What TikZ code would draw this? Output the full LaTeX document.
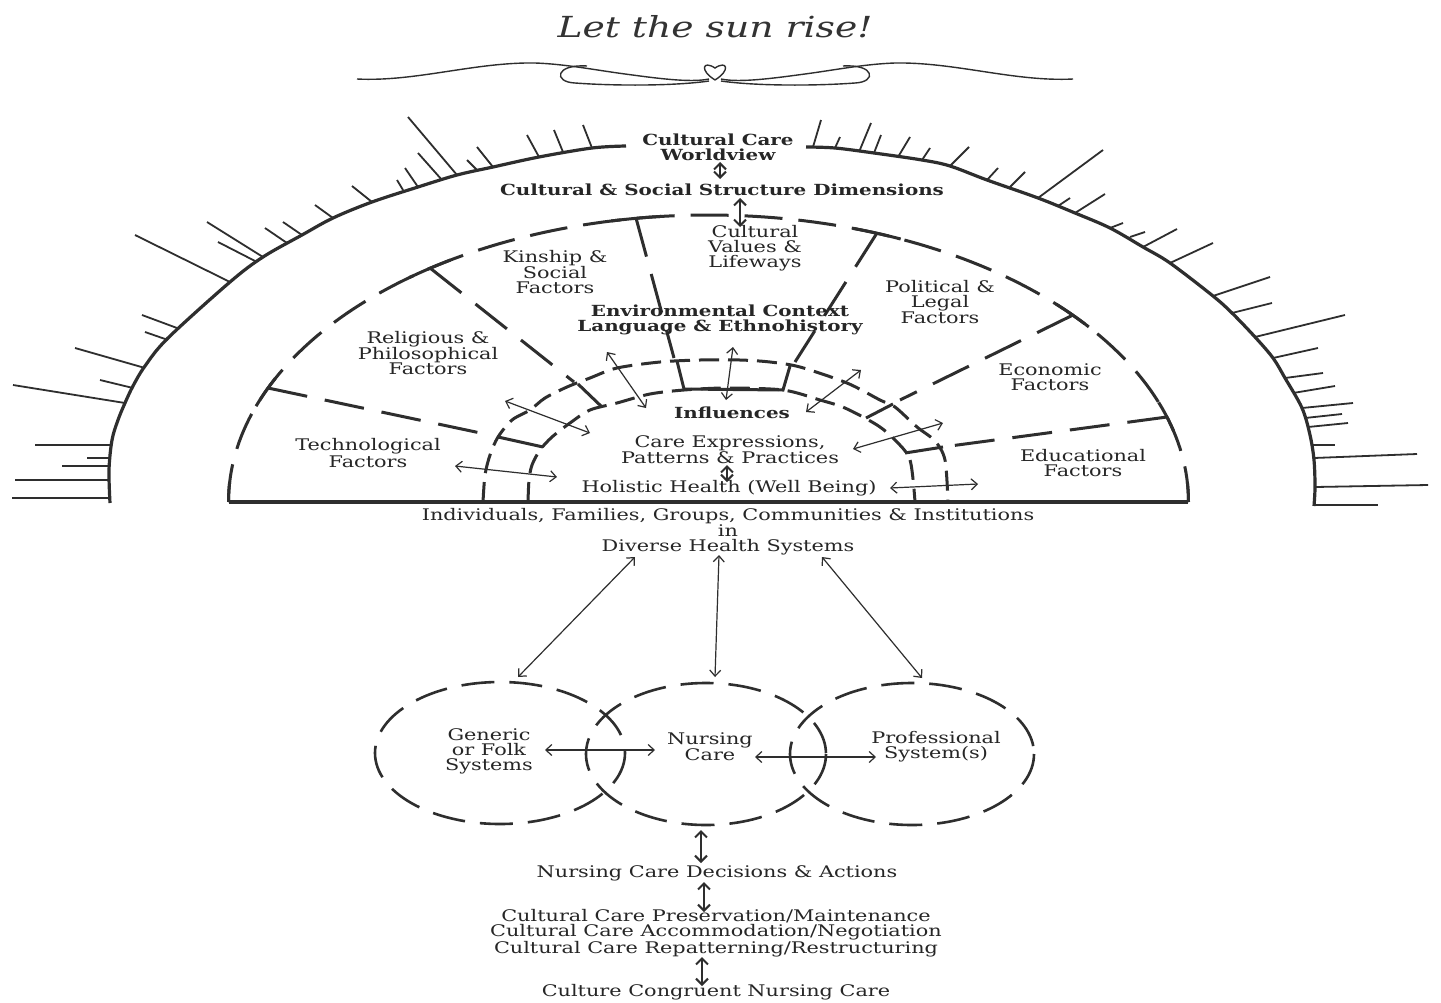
\documentclass[tikz,border=0pt]{standalone}
\usepackage{fontspec}
\setmainfont{DejaVu Serif}[FakeStretch=1.3]
\usetikzlibrary{arrows.meta}
\begin{document}
\begin{tikzpicture}[x=1pt,y=-1pt,
  ink/.style={draw=black!82},
  sunarc/.style={ink,line width=3.2pt},
  ray/.style={ink,line width=1.8pt},
  ringd/.style={ink,line width=3pt,dash pattern=on 38pt off 16pt},
  bandd/.style={ink,line width=3pt,dash pattern=on 20pt off 9pt},
  divd/.style={ink,line width=3pt,dash pattern=on 40pt off 18pt},
  solidbar/.style={ink,line width=3pt},
  circd/.style={ink,line width=2.6pt,dash pattern=on 33pt off 15pt},
  orn/.style={ink,line width=1.4pt},
  thinarr/.style={ink,line width=1.2pt,<->,>={Straight Barb[length=6pt,width=11pt]}},
  thickarr/.style={ink,line width=2pt,<->,>={Straight Barb[length=6pt,width=12pt]}},
  lbl/.style={inner sep=0pt,align=center,text=black!85,font=\fontsize{16}{15}\selectfont},
  blbl/.style={inner sep=0pt,align=center,text=black!85,font=\fontsize{15.3}{15}\selectfont\bfseries},
  slbl/.style={inner sep=0pt,align=center,text=black!85,font=\fontsize{16}{15}\selectfont}
]
\useasboundingbox (0,0) rectangle (1441,1002);
\fill[white] (0,0) rectangle (1441,1002);

% title and ornament
\node[inner sep=0pt,text=black!80,font=\fontsize{29}{29}\selectfont\itshape] (title) at (715,27) {Let the sun rise!};
\begin{scope}[shift={(715,0)}]
  \draw[orn] (-358,79) .. controls (-300,82) and (-240,62) .. (-180,63) .. controls (-150,64) and (-120,70) .. (-90,74) .. controls (-60,78) and (-25,83) .. (-6,79);
  \draw[orn] (-128,66) .. controls (-160,64) and (-162,82) .. (-140,83) .. controls (-100,86) and (-40,86) .. (-6,81);
  \draw[orn] (0,80) .. controls (-16,70) and (-12,60) .. (0,68) .. controls (12,60) and (16,70) .. (0,80);
\end{scope}
\begin{scope}[shift={(715,0)},xscale=-1]
  \draw[orn] (-358,79) .. controls (-300,82) and (-240,62) .. (-180,63) .. controls (-150,64) and (-120,70) .. (-90,74) .. controls (-60,78) and (-25,83) .. (-6,79);
  \draw[orn] (-128,66) .. controls (-160,64) and (-162,82) .. (-140,83) .. controls (-100,86) and (-40,86) .. (-6,81);
\end{scope}

% outer sun arc
\draw[sunarc] plot[smooth,tension=0.55] coordinates {(110,503) (109,470) (112,440) (118,420) (125,403) (133,386) (145,366) (168,338) (230,282) (263,257) (302,235) (333,218) (372,202) (418,187) (457,175) (493,167) (539,157) (592,148) (626,146)};
\draw[sunarc] plot[smooth,tension=0.55] coordinates {(806,147) (835,148) (874,153) (922,160) (950,166) (987,180) (1038,198) (1075,213) (1110,228) (1143,247) (1170,263) (1213,296) (1232,313) (1255,337) (1273,358) (1285,378) (1302,408) (1310,435) (1314,460) (1315,487) (1314,506)};

% rays
\foreach \a/\b/\c/\d in {110/498/12/498, 109/480/15/480, 109/466/62/466, 109/458/87/458, 111/445/35/445,
  125/403/13/385, 133/388/100/380, 145/368/75/348, 168/340/145/332, 177/328/142/315, 230/282/135/235,
  257/262/218/242, 263/257/207/222, 287/243/265/228, 302/235/283/222, 333/218/315/205, 372/202/352/186,
  403/190/397/180, 418/187/405/168, 442/180/418/153, 457/175/408/117, 477/170/467/160, 493/167/477/147,
  539/157/527/135, 563/152/554/130, 592/148/583/125,
  813/147/821/120, 835/148/840/137, 859/152/871/123, 874/153/881/135, 898/157/910/137, 922/160/930/148,
  950/166/969/147, 987/180/998/168, 1010/187/1025/172, 1038/198/1103/150, 1058/206/1070/198,
  1075/213/1105/194, 1110/228/1123/223, 1130/237/1145/232, 1143/247/1177/229, 1170/263/1213/243,
  1213/296/1270/277, 1232/313/1272/303, 1255/337/1345/315, 1273/358/1318/348, 1285/378/1323/373,
  1293/393/1335/386, 1302/408/1353/403, 1305/418/1342/414, 1308/427/1348/423, 1312/445/1335/445,
  1314/458/1417/454, 1315/487/1428/485, 1314/505/1378/505}
  \draw[ray] (\a,\b) -- (\c,\d);

% factor ring (dashed half ellipse) and base
\draw[ringd] plot[domain=180:360,samples=150] ({708.5+480*cos(\x)},{502+287*sin(\x)});
\draw[solidbar] plot[domain=180:184,samples=10] ({708.5+480*cos(\x)},{502+287*sin(\x)});
\draw[solidbar] plot[domain=356:360,samples=10] ({708.5+480*cos(\x)},{502+287*sin(\x)});
\foreach \t in {202.5,234.5,261.3,290.6,319.4,342.7}
  \draw[solidbar] plot[domain=\t-3:\t+3,samples=10] ({708.5+480*cos(\x)},{502+287*sin(\x)});
\draw[ink,line width=3.6pt] (229,502) -- (1188,502);

% influence band
\draw[bandd] plot[smooth,tension=0.5] coordinates {(483,502) (485,475) (490,455) (498,437) (512,420) (530,410) (545,398) (567,387) (590,378) (617,368) (660,362) (700,360) (740,360) (770,362) (800,367) (847,383) (880,400) (895,407) (917,427) (935,441) (945,460) (948,502)};
\draw[bandd] plot[smooth,tension=0.5] coordinates {(528,502) (529,480) (532,465) (540,450) (552,437) (570,423) (590,410) (617,403) (650,394) (684,390) (726,388) (783,390) (820,400) (845,408) (877,425) (895,440) (910,460) (915,502)};
\draw[solidbar] (498,437) -- (543,447);
\draw[solidbar] (578,384) -- (602,407);
\draw[solidbar] (677,361) -- (684,389) -- (783,390) -- (790,366);
\draw[solidbar] (893,404) -- (866,418);
\draw[solidbar] (943,447) -- (905,453);

% dividers
\draw[divd] (268,388) -- (490,435);
\draw[divd] (430,268) -- (574,382);
\draw[divd] (636,218) -- (674,358);
\draw[divd] (877,233) -- (795,362);
\draw[divd] (1073,315) -- (900,400);
\draw[divd] (1167,417) -- (950,446);

% labels in the sun
\node[blbl] (ccw) at (718,147) {Cultural Care\\Worldview};
\node[blbl] (csd) at (722,190) {Cultural \& Social Structure Dimensions};
\node[lbl] (cvl) at (755,248) {Cultural\\Values \&\\Lifeways};
\node[lbl] (kin) at (555,272) {Kinship \&\\Social\\Factors};
\node[lbl] (pol) at (940,302) {Political \&\\Legal\\Factors};
\node[lbl] (rel) at (428,353) {Religious \&\\Philosophical\\Factors};
\node[lbl] (eco) at (1050,377) {Economic\\Factors};
\node[lbl] (tec) at (368,453) {Technological\\Factors};
\node[lbl] (edu) at (1083,463) {Educational\\Factors};
\node[blbl] (env) at (720,320) {Environmental Context\\Language \& Ethnohistory};
\node[blbl] (inf) at (732,413) {Influences};
\node[lbl] (cep) at (730,450) {Care Expressions,\\Patterns \& Practices};
\node[lbl] (hhw) at (729,488) {Holistic Health (Well Being)};
\node[slbl] (ind) at (728,532) {Individuals, Families, Groups, Communities \& Institutions\\in\\Diverse Health Systems};

% arrows in the sun
\coordinate (t1a) at (720,162); \coordinate (t1b) at (720,179);
\coordinate (t2a) at (740,198); \coordinate (t2b) at (740,227);
\draw[thickarr] (t1a) -- (t1b);
\draw[thickarr] (t2a) -- (t2b);
\coordinate (c1a) at (455,466); \coordinate (c1b) at (557,477);
\coordinate (c2a) at (505,401); \coordinate (c2b) at (590,433);
\coordinate (c3a) at (607,352); \coordinate (c3b) at (646,408);
\coordinate (c4a) at (733,347); \coordinate (c4b) at (726,400);
\coordinate (c5a) at (861,370); \coordinate (c5b) at (806,412);
\coordinate (c6a) at (943,423); \coordinate (c6b) at (853,449);
\coordinate (c7a) at (890,488); \coordinate (c7b) at (978,484);
\coordinate (c8a) at (727,465); \coordinate (c8b) at (727,482);
\foreach \p in {c1,c2,c3,c4,c5,c6,c7} \draw[thinarr] (\p a) -- (\p b);
\draw[thickarr] (c8a) -- (c8b);

% the three systems
\draw[circd] (500,753) ellipse [x radius=125, y radius=71];
\draw[circd] (706,754) ellipse [x radius=120, y radius=71];
\draw[circd] (912,754) ellipse [x radius=122, y radius=71];
\node[lbl] (gen) at (489,751) {Generic\\or Folk\\Systems};
\node[lbl] (nur) at (710,747) {Nursing\\Care};
\node[lbl] (pro) at (936,747) {Professional\\System(s)};
\coordinate (s1a) at (635,557); \coordinate (s1b) at (518,677);
\coordinate (s2a) at (719,555); \coordinate (s2b) at (715,677);
\coordinate (s3a) at (822,557); \coordinate (s3b) at (922,678);
\coordinate (g1) at (545,750); \coordinate (n1) at (655,750);
\coordinate (n2) at (755,757); \coordinate (p2) at (876,757);
\foreach \p in {s1,s2,s3} \draw[thinarr] (\p a) -- (\p b);
\draw[thinarr] (g1) -- (n1);
\draw[thinarr] (n2) -- (p2);

% lower chain
\node[lbl] (dec) at (717,873) {Nursing Care Decisions \& Actions};
\node[lbl] (ccp) at (716,933) {Cultural Care Preservation/Maintenance\\Cultural Care Accommodation/Negotiation\\Cultural Care Repatterning/Restructuring};
\node[lbl] (cong) at (716,992) {Culture Congruent Nursing Care};
\coordinate (b1a) at (701,830); \coordinate (b1b) at (701,863);
\coordinate (b2a) at (704,882); \coordinate (b2b) at (704,912);
\coordinate (b3a) at (702,957); \coordinate (b3b) at (702,986);
\foreach \p in {b1,b2,b3} \draw[thickarr] (\p a) -- (\p b);
\end{tikzpicture}
\end{document}
